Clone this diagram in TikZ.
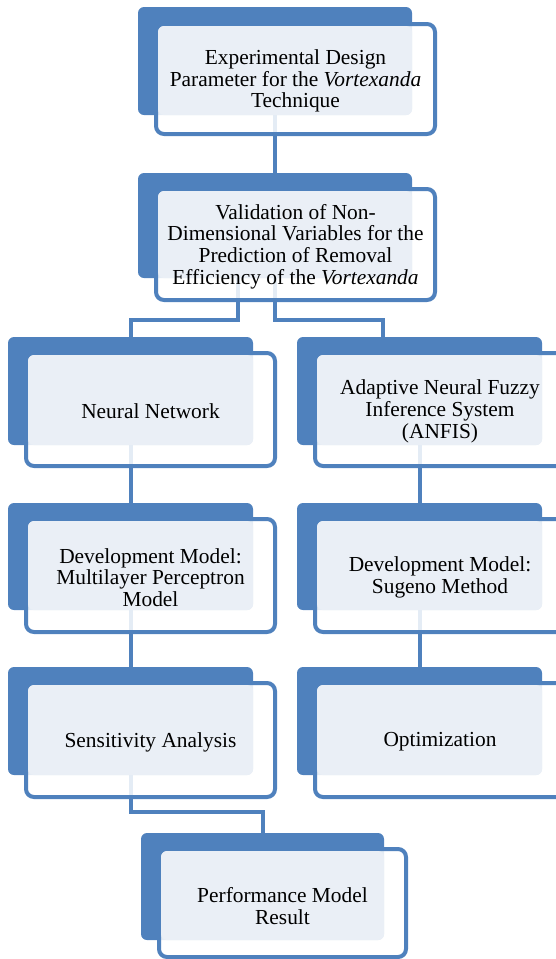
\documentclass[tikz,border=0pt]{standalone}
\usepackage{fontspec}
\setmainfont{Liberation Serif}
\newfontfamily\tnr{Liberation Serif}
\definecolor{ablue}{HTML}{4F81BD}
\definecolor{tbg}{HTML}{EAEFF6}
\tikzset{
  backbox/.style={fill=ablue, rounded corners=6pt, inner sep=0pt, outer sep=0pt},
  whitebox/.style={draw=ablue, line width=4pt, fill=white, fill opacity=0.85, rounded corners=8pt, inner sep=0pt, outer sep=0pt},
  textbg/.style={fill=tbg, rounded corners=6pt},
  txt/.style={font=\tnr\fontsize{21.4}{21.7}\selectfont, align=center, inner sep=0pt, text=black, yshift=-2pt},
  conn/.style={draw=ablue, line width=4pt},
}
\begin{document}
\begin{tikzpicture}[x=1pt,y=1pt]
\useasboundingbox (0,0) rectangle (556,-959);
\clip (0,0) rectangle (556,-959);
% back boxes
\node[backbox, minimum width=274, minimum height=108] (b1) at (275,-61) {};
\node[backbox, minimum width=274, minimum height=105] (b2) at (275,-225.5) {};
\node[backbox, minimum width=245, minimum height=108] (b3) at (130.5,-391) {};
\node[backbox, minimum width=245, minimum height=108] (b4) at (419.5,-391) {};
\node[backbox, minimum width=245, minimum height=107] (b5) at (130.5,-556.5) {};
\node[backbox, minimum width=245, minimum height=107] (b6) at (419.5,-556.5) {};
\node[backbox, minimum width=245, minimum height=108] (b7) at (130.5,-721) {};
\node[backbox, minimum width=245, minimum height=108] (b8) at (419.5,-721) {};
\node[backbox, minimum width=243, minimum height=107] (b9) at (262.5,-886.5) {};
% connectors
\draw[conn] (b1.south) -- (b2.north);
\draw[conn] ([xshift=-37]b2.south) -- ++(0,-42) -| (b3.north);
\draw[conn] (b2.south) -- ++(0,-42) -| ([xshift=-36.5]b4.north);
\draw[conn] (b3.south) -- (b5.north);
\draw[conn] (b4.south) -- (b6.north);
\draw[conn] (b5.south) -- (b7.north);
\draw[conn] (b6.south) -- (b8.north);
\draw[conn] (b7.south) -- ++(0,-37) -| (b9.north);
% white boxes
\node[whitebox, minimum width=279, minimum height=110] (w1) at (295.5,-79) {};
\node[whitebox, minimum width=279, minimum height=111] (w2) at (295.5,-244.5) {};
\node[whitebox, minimum width=249, minimum height=113] (w3) at (150.5,-409.5) {};
\node[whitebox, minimum width=250, minimum height=113] (w4) at (440,-409.5) {};
\node[whitebox, minimum width=249, minimum height=113] (w5) at (150.5,-575.5) {};
\node[whitebox, minimum width=250, minimum height=113] (w6) at (440,-575.5) {};
\node[whitebox, minimum width=249, minimum height=114] (w7) at (150.5,-740) {};
\node[whitebox, minimum width=250, minimum height=114] (w8) at (440,-740) {};
\node[whitebox, minimum width=247, minimum height=108] (w9) at (282.5,-903) {};
% text backgrounds
\foreach \i in {1,...,9}{
  \fill[textbg] ([shift={(2,-2)}]w\i.north west) rectangle (b\i.south east);
}
% texts
\node[txt] (t1) at (w1) {Experimental Design\\Parameter for the \textit{Vortexanda}\\Technique};
\node[txt] (t2) at (w2) {Validation of Non-\\Dimensional Variables for the\\Prediction of Removal\\Efficiency of the \textit{Vortexanda}};
\node[txt] (t3) at (w3) {Neural Network};
\node[txt] (t4) at (w4) {Adaptive Neural Fuzzy\\Inference System\\(ANFIS)};
\node[txt] (t5) at (w5) {Development Model:\\Multilayer Perceptron\\Model};
\node[txt] (t6) at (w6) {Development Model:\\Sugeno Method};
\node[txt] (t7) at (w7) {Sensitivity Analysis};
\node[txt] (t8) at (w8) {Optimization};
\node[txt] (t9) at ([yshift=-1pt]w9) {Performance Model\\Result};
\end{tikzpicture}
\end{document}
